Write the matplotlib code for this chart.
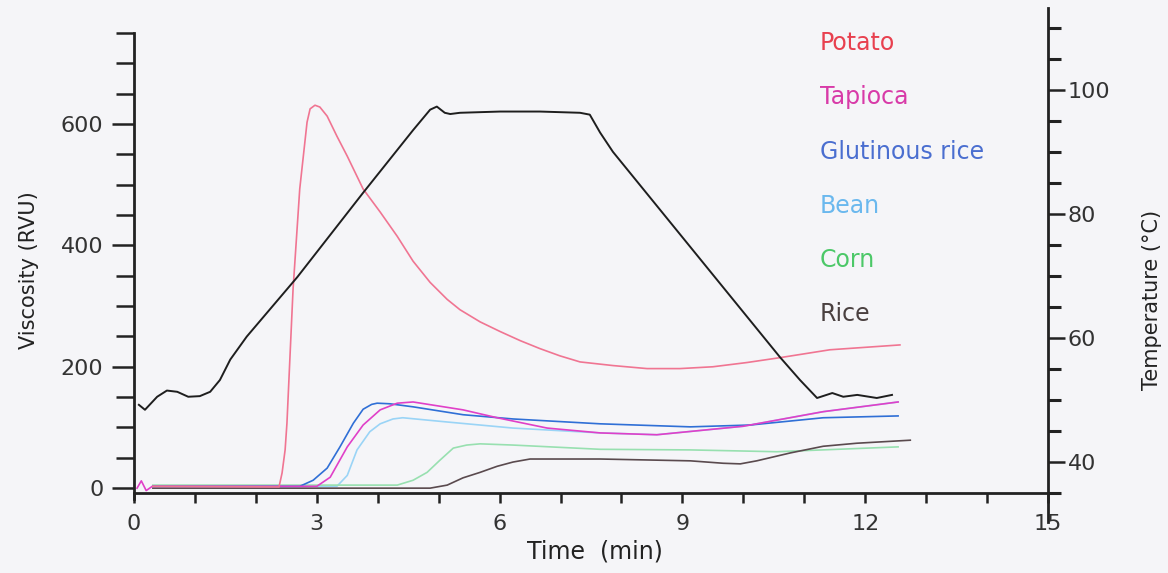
import matplotlib
matplotlib.use("Agg")
import matplotlib.pyplot as plt
from matplotlib.ticker import MultipleLocator, FixedLocator

plt.rcParams['font.family'] = ['DejaVu Sans']

# ---- data ----
potato_t = [0.31, 2.38, 2.43, 2.48, 2.51, 2.61, 2.72, 2.84, 2.89, 2.97, 3.05, 3.17, 3.33, 3.50,
            3.76, 4.04, 4.32, 4.58, 4.86, 5.14, 5.35, 5.68, 6.01, 6.34, 6.66, 6.99, 7.32, 7.86,
            8.42, 8.96, 9.50, 10.06, 10.60, 11.42, 12.57]
potato_v = [3, 2, 25, 63, 107, 327, 493, 603, 625, 631, 628, 613, 580, 547,
            493, 455, 415, 374, 339, 311, 294, 274, 258, 243, 230, 218, 208, 202,
            197, 197, 200, 207, 215, 228, 236]

tapioca_t = [0.05, 0.12, 0.20, 0.30, 3.00, 3.22, 3.50, 3.76, 4.04, 4.32, 4.58, 5.40, 5.96, 6.78,
             7.65, 8.58, 10.00, 11.31, 12.54]
tapioca_v = [0, 12, -4, 3, 3, 18, 68, 104, 129, 140, 142, 129, 116, 99,
             91, 88, 102, 126, 142]

glut_t = [0.31, 2.72, 2.94, 3.17, 3.38, 3.60, 3.76, 3.90, 3.99, 4.20, 4.58, 5.40, 6.22, 7.65,
          9.13, 10.11, 11.31, 12.54]
glut_v = [3, 3, 13, 33, 68, 107, 130, 138, 140, 139, 134, 121, 114, 106,
          101, 104, 116, 119]

bean_t = [0.31, 3.33, 3.50, 3.66, 3.87, 4.04, 4.25, 4.41, 5.14, 6.22, 7.65, 8.58, 10.00, 11.31,
          12.54]
bean_v = [3, 3, 21, 63, 93, 106, 114, 116, 109, 99, 91, 88, 102, 126,
          142]

corn_t = [0.31, 4.32, 4.58, 4.81, 5.02, 5.24, 5.46, 5.68, 6.22, 7.65, 9.13, 10.55, 12.54]
corn_v = [5, 5, 13, 26, 46, 66, 71, 73, 71, 64, 63, 60, 68]

rice_t = [0.31, 4.86, 5.14, 5.40, 5.68, 5.96, 6.22, 6.50, 7.65, 9.13, 9.67, 9.95, 10.22, 10.77,
          11.31, 11.86, 12.74]
rice_v = [0, 0, 5, 17, 26, 36, 43, 48, 48, 45, 41, 40, 45, 58,
          69, 74, 79]

temp_t = [0.08, 0.18, 0.38, 0.54, 0.71, 0.89, 1.08, 1.25, 1.41, 1.58, 1.85, 2.68, 3.76, 4.58,
          4.86, 4.97, 5.10, 5.19, 5.35, 6.01, 6.66, 7.32, 7.48, 7.65, 7.86, 10.60, 10.93, 11.21,
          11.46, 11.64, 11.87, 12.19, 12.44]
temp_c = [49.2, 48.4, 50.5, 51.5, 51.3, 50.5, 50.6, 51.3, 53.2, 56.5, 60.2, 69.8, 83.4, 93.5,
          96.8, 97.3, 96.3, 96.1, 96.3, 96.5, 96.5, 96.3, 96.0, 93.1, 90.0, 56.9, 53.2, 50.3,
          51.1, 50.5, 50.8, 50.3, 50.8]

series_names = ["Potato", "Tapioca", "Glutinous rice", "Bean", "Corn", "Rice"]
text_colors = ["#e8404f", "#d83aa8", "#4a6ed0", "#6ab8ee", "#4cc868", "#4a4040"]
line_colors = ["#f07592", "#e040c8", "#2f6fd6", "#9ad4f6", "#98e0b0", "#5a4a4e"]

W, H = 1168, 573
fig = plt.figure(figsize=(W / 100, H / 100), dpi=100, facecolor="#f5f5f8")

L, R = 134, 1048
ax = fig.add_axes([L / W, 1 - 493 / H, (R - L) / W, (493 - 33) / H])
ax.set_facecolor("none")
ax.set_xlim(0, 15)
ax.set_ylim(-8, 750)

data = [(potato_t, potato_v), (tapioca_t, tapioca_v), (glut_t, glut_v),
        (bean_t, bean_v), (corn_t, corn_v), (rice_t, rice_v)]
order = [3, 4, 5, 2, 1, 0]
for i in order:
    t, v = data[i]
    ax.plot(t, v, color=line_colors[i], lw=1.2, zorder=2, solid_joinstyle="round")

for s in ["top", "right"]:
    ax.spines[s].set_visible(False)
for s in ["left", "bottom"]:
    ax.spines[s].set_linewidth(2.0)
    ax.spines[s].set_color("#222222")
ax.spines["left"].set_bounds(-18, 750)

ax.xaxis.set_major_locator(MultipleLocator(3))
ax.xaxis.set_minor_locator(MultipleLocator(1))
ax.yaxis.set_major_locator(FixedLocator([0, 200, 400, 600]))
ax.yaxis.set_minor_locator(MultipleLocator(50))
ax.tick_params(axis="x", which="both", direction="out", length=7, width=1.8, color="#222222",
               labelsize=16, pad=8, labelcolor="#333333")
ax.tick_params(axis="y", which="major", direction="out", length=16, width=1.8, color="#222222",
               labelsize=16, pad=6, labelcolor="#333333")
ax.tick_params(axis="y", which="minor", direction="out", length=13, width=1.8, color="#222222")

ax.set_xlabel("Time  (min)", fontsize=17, color="#222222")
ax.xaxis.set_label_coords((595 - L) / (R - L), (493 - 540) / 460)
ax.set_ylabel("Viscosity (RVU)", fontsize=15, color="#222222")
ax.yaxis.set_label_coords((39 - L) / (R - L), (493 - 270) / 460)

# temperature axis
ax2 = fig.add_axes([L / W, 1 - 522 / H, (R - L) / W, (522 - 8) / H])
ax2.set_facecolor("none")
ax2.set_xlim(0, 15)
ax2.set_ylim(30.3, 113.2)
ax2.plot(temp_t, temp_c, color="#1e1e1e", lw=1.4, zorder=3, solid_joinstyle="round")
for s in ["top", "left", "bottom"]:
    ax2.spines[s].set_visible(False)
ax2.spines["right"].set_linewidth(2.0)
ax2.spines["right"].set_color("#222222")
ax2.set_xticks([])
ax2.yaxis.tick_right()
ax2.yaxis.set_label_position("right")
ax2.yaxis.set_major_locator(FixedLocator([40, 60, 80, 100]))
ax2.yaxis.set_minor_locator(FixedLocator([35, 45, 50, 55, 65, 70, 75, 85, 90, 95, 105, 110]))
ax2.tick_params(axis="y", which="major", direction="out", length=12, width=1.8, color="#222222",
                labelsize=16, pad=2, labelcolor="#333333")
ax2.tick_params(axis="y", which="minor", direction="out", length=9, width=2.2, color="#222222")
ax2.set_ylabel("Temperature (°C)", fontsize=15, color="#222222")
ax2.yaxis.set_label_coords((1142 - L) / (R - L), (522 - 300) / 514)

# legend as coloured text
legend_y = [43, 97, 152, 206, 260, 314]
for name, col, yy in zip(series_names, text_colors, legend_y):
    fig.text(820 / W, 1 - yy / H, name, color=col, fontsize=17, va="center", ha="left")

fig.savefig("out.png", dpi=100, facecolor=fig.get_facecolor())
